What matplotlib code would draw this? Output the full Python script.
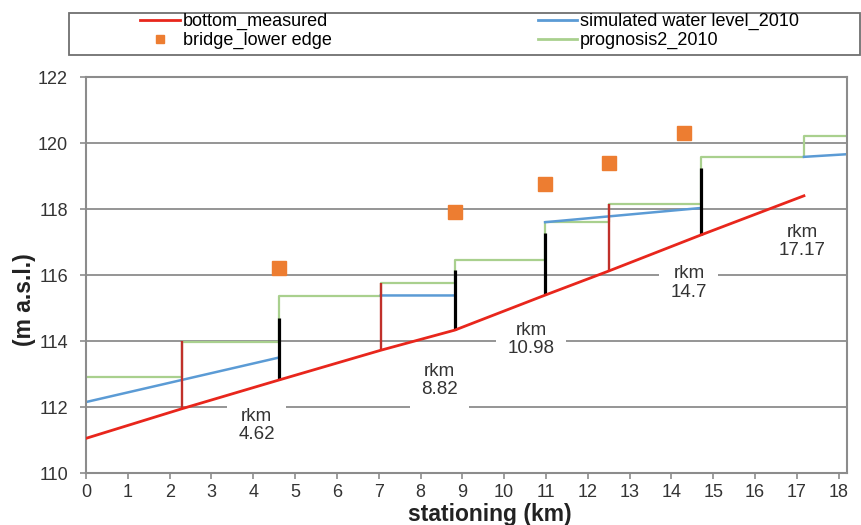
import numpy as np
import matplotlib.pyplot as plt
from matplotlib.lines import Line2D
from matplotlib.patches import Rectangle

plt.rcParams['font.family'] = ['Liberation Sans', 'DejaVu Sans']

# river bed (measured)
bottom_km = [0, 2.3, 4.62, 7.05, 8.82, 10.98, 12.5, 14.7, 17.17]
bottom_z = [111.05, 111.95, 112.82, 113.72, 114.33, 115.39, 116.12, 117.21, 118.4]

# weirs (black) and other structures (red)
weir_km = [4.62, 8.82, 10.98, 14.7]
weir_bottom = [112.82, 114.33, 115.39, 117.21]
weir_top = [114.7, 116.15, 117.27, 119.24]
ramp_km = [2.3, 7.05, 12.5]
ramp_bottom = [111.95, 113.72, 116.12]
ramp_top = [114.0, 115.75, 118.15]

# simulated water level 2010 (segments)
sim_km = [0, 4.62, np.nan, 7.05, 8.82, np.nan, 10.98, 14.7, np.nan, 17.17, 18.2]
sim_z = [112.15, 113.5, np.nan, 115.38, 115.38, np.nan, 117.6, 118.03, np.nan, 119.58, 119.66]

# prognosis2 2010 (step levels)
prog_km = [0, 2.3, 4.62, 7.05, 8.82, 10.98, 12.5, 14.7, 17.17, 18.2]
prog_z = [112.9, 113.97, 115.35, 115.75, 116.45, 117.62, 118.15, 119.58, 120.2, 120.2]

# bridges lower edge
bridge_km = [4.62, 8.82, 10.98, 12.5, 14.3]
bridge_z = [116.2, 117.9, 118.75, 119.4, 120.3]

# rkm labels
rkm_labels = ['4.62', '8.82', '10.98', '14.7', '17.17']
rkm_pos = [(4.08, 111.45), (8.45, 112.8), (10.64, 114.04), (14.42, 115.76), (17.13, 117.01)]

c_red = '#e8261c'
c_red_dark = '#c0302a'
c_blue = '#5b9bd5'
c_green = '#a9d08e'
c_orange = '#ed7d31'
c_grid = '#8c8c8c'

fig = plt.figure(figsize=(8.62, 5.25), dpi=100)
ax = fig.add_axes([86 / 862, 52 / 525, 761 / 862, 396 / 525])

ax.set_xlim(0, 18.2)
ax.set_ylim(110, 122)
ax.set_xticks(range(0, 19))
ax.set_yticks(range(110, 123, 2))
ax.grid(axis='y', color=c_grid, linewidth=1.3, zorder=0)
ax.set_axisbelow(True)
for s in ax.spines.values():
    s.set_color(c_grid)
    s.set_linewidth(1.5)
ax.tick_params(axis='both', direction='out', length=4, width=1.2, color=c_grid,
               labelsize=13, labelcolor='#333333')
ax.tick_params(axis='x', pad=4)
ax.tick_params(axis='y', pad=9)

# water levels
ax.plot(prog_km, prog_z, color=c_green, lw=1.6, drawstyle='steps-post', zorder=2)
ax.plot(sim_km, sim_z, color=c_blue, lw=1.8, zorder=2)

# structures
ax.vlines(ramp_km, ramp_bottom, ramp_top, color=c_red_dark, lw=1.7, zorder=3)
ax.vlines(weir_km, weir_bottom, weir_top, color='black', lw=2.3, zorder=3)

# river bed
ax.plot(bottom_km, bottom_z, color=c_red, lw=2.0, zorder=4)

# bridges
ax.plot(bridge_km, bridge_z, ls='none', marker='s', ms=9.5, color=c_orange, zorder=5)

for lab, (x, y) in zip(rkm_labels, rkm_pos):
    ax.text(x, y, 'rkm\n' + lab, ha='center', va='center', fontsize=13.5,
            color='#333333', linespacing=1.1, zorder=3,
            bbox=dict(boxstyle='square,pad=0.6', fc='white', ec='none'))

fig.text(490 / 862, 1 - 515 / 525, 'stationing (km)', ha='center', va='center',
         fontsize=16.5, fontweight='bold', color='#222222')
fig.text(25 / 862, 1 - 300 / 525, '(m a.s.l.)', ha='center', va='center',
         rotation=90, fontsize=16.5, fontweight='bold', color='#222222')

# legend
handles = [Line2D([], [], color=c_red, lw=2),
           Line2D([], [], ls='none', marker='s', ms=6, color=c_orange),
           Line2D([], [], color=c_blue, lw=2),
           Line2D([], [], color=c_green, lw=2)]
labels = ['bottom_measured', 'bridge_lower edge',
          'simulated water level_2010', 'prognosis2_2010']
fig.legend(handles, labels, ncol=2, frameon=False, fontsize=13,
           loc='upper left', bbox_to_anchor=(140 / 862, 1 - 13 / 525),
           borderaxespad=0, borderpad=0,
           handlelength=2.2, handletextpad=0.17, columnspacing=11.4,
           labelspacing=0.1)
fig.patches.append(Rectangle((69 / 862, 1 - 55 / 525), 791 / 862, 42 / 525,
                             transform=fig.transFigure, fill=False,
                             ec='#707070', lw=1.3))

fig.savefig('out.png', dpi=100)
